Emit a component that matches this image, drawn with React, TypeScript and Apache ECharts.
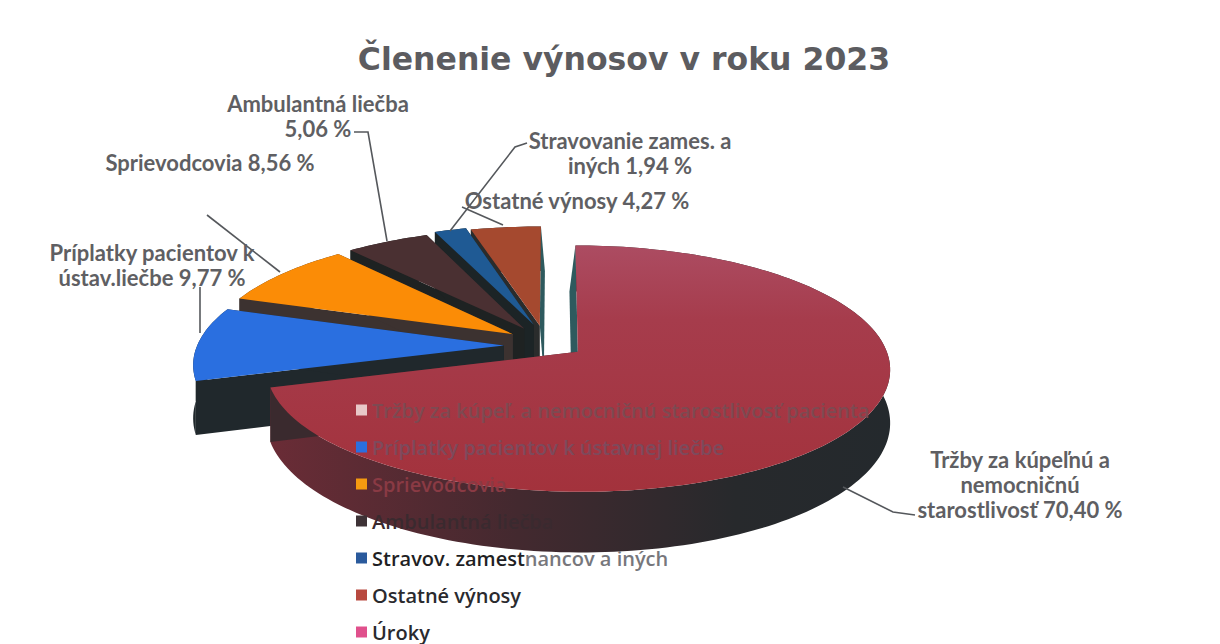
import React, { useEffect, useRef } from "react";
import * as echarts from "echarts";

const titleText = "Členenie výnosov v roku 2023";
const legendNames = [
  "Tržby za kúpeľ. a nemocničnú starostlivosť pacienta",
  "Príplatky pacientov k ústavnej liečbe",
  "Sprievodcovia",
  "Ambulantná liečba",
  "Stravov. zamestnancov a iných",
  "Ostatné výnosy",
  "Úroky",
];
const shares = [70.4, 9.77, 8.56, 5.06, 1.94, 4.27, 0];
const explode = [0.08, 0.176, 0.18, 0.215, 0.22, 0.23, 0];
const nudgeX = [0, 0, 0, 0, -3, -9, 0];
const nudgeY = [0, 0, 0, 4, 3, 6, 0];
const topColors = ["#a63a48", "#2a6fe0", "#fb8c06", "#4a3032", "#1f5a94", "#a5492f", "#d84a80"];
const wallColors = ["#3a2a2e", "#20282c", "#3c3230", "#1e2222", "#1c2426", "#2a2c2c", "#000"];
const legendIcons = ["#e8c8c8", "#2a6fe0", "#f59a10", "#3e3236", "#2a5a9c", "#b8493f", "#e0508c"];
const legendTextColors = ["#7d4a52", "#7d4a5c", "#8a3a44", "#3a2a2f", "#1f1f24", "#2a2a2e", "#2a2a2e"];

const FONT = "'Open Sans', sans-serif";
const LABEL_FONT = "Lato, sans-serif";
const CX = 558, CY = 346, R = 307, RY = 119.3, P = 0.136, DEPTH = 52;
const LEGEND_SIZE = 20;

function project(u: number, v: number, d: number): number[] {
  const k = 1 - P * v;
  return [CX + (R * u) / k, CY + (RY * v + d) / k];
}

function makeRender(index: number) {
  return (_p: any, api: any) => {
    const value = api.value(0) as number;
    if (!value) return { type: "group", children: [] };
    const total = shares.reduce((a, b) => a + b, 0);
    const before = shares.slice(0, index).reduce((a, b) => a + b, 0);
    const a0 = (before / total) * Math.PI * 2;
    const a1 = ((before + value) / total) * Math.PI * 2;
    const mid = (a0 + a1) / 2;
    const eu = explode[index] * Math.sin(mid);
    const ev = -explode[index] * Math.cos(mid);
    const steps = Math.max(6, Math.ceil((a1 - a0) * 40));
    const topRim: number[][] = [];
    const botRim: number[][] = [];
    for (let i = 0; i <= steps; i++) {
      const t = a0 + ((a1 - a0) * i) / steps;
      topRim.push(project(Math.sin(t) + eu, -Math.cos(t) + ev, 0));
      botRim.push(project(Math.sin(t) + eu, -Math.cos(t) + ev, DEPTH));
    }
    const apexT = project(eu, ev, 0);
    const apexB = project(eu, ev, DEPTH);
    const startSkew = index === 0 ? -6 : 0;
    const endSkew = index === 5 ? 4 : 0;
    const shift = (p: number[], s: number) => [p[0] + s, p[1]];
    const rimFill: any =
      index === 0
        ? new echarts.graphic.LinearGradient(0, 0, 1, 0, [
            { offset: 0, color: "#6a2c36" },
            { offset: 0.4, color: "#43292f" },
            { offset: 0.75, color: "#27292c" },
            { offset: 1, color: "#24292d" },
          ])
        : wallColors[index];
    const poly = (points: number[][], fill: any) => ({
      type: "polygon",
      shape: { points },
      style: { fill, stroke: null },
      silent: true,
    });
    const topFill: any =
      index === 0
        ? new echarts.graphic.LinearGradient(0, 0, 0, 1, [
            { offset: 0, color: "#ac4c62" },
            { offset: 0.3, color: "#a63c4c" },
            { offset: 1, color: "#a3323c" },
          ])
        : topColors[index];
    return {
      type: "group",
      x: nudgeX[index],
      y: nudgeY[index],
      children: [
        poly(topRim.concat(botRim.slice().reverse()), rimFill),
        poly(
          [apexT, topRim[0], shift(botRim[0], startSkew), shift(apexB, startSkew)],
          index === 0 ? "#2e5a5e" : wallColors[index]
        ),
        poly(
          [apexT, topRim[steps], shift(botRim[steps], endSkew), shift(apexB, endSkew)],
          index === 5 ? "#2e5a5e" : wallColors[index]
        ),
        poly([apexT].concat(topRim), topFill),
      ],
    };
  };
}

const labelBlocks = [
  { text: "Ambulantná liečba\n5,06 %", x: 318, y: 116 },
  { text: "Sprievodcovia 8,56 %", x: 210, y: 162 },
  { text: "Stravovanie zames. a\niných 1,94 %", x: 630, y: 153 },
  { text: "Ostatné výnosy 4,27 %", x: 577, y: 200 },
  { text: "Príplatky pacientov k\nústav.liečbe 9,77 %", x: 152, y: 265 },
  { text: "Tržby za kúpeľnú a\nnemocničnú\nstarostlivosť 70,40 %", x: 1020, y: 484 },
];
const leaders = [
  [[354, 132], [368, 132], [387, 241]],
  [[207, 215], [280, 272]],
  [[527, 143], [515, 147], [450, 231]],
  [[462, 207], [503, 225]],
  [[200, 287], [200, 333]],
  [[843, 487], [893, 512], [915, 515]],
];

export default function App() {
  const ref = useRef<HTMLDivElement>(null);
  useEffect(() => {
    const chart = echarts.init(ref.current!, null, { renderer: "svg" });
    const order = legendNames.map((_, i) => i);
    chart.setOption({
      animation: false,
      backgroundColor: "#ffffff",
      title: {
        text: titleText,
        left: 619,
        top: 38,
        textAlign: "center",
        textStyle: { fontFamily: "'DejaVu Sans', sans-serif", fontSize: 31.5, fontWeight: 700, color: "#5c5c60" },
      },
      legend: {
        orient: "vertical",
        left: 351,
        top: 395,
        height: 300,
        itemWidth: 11,
        itemHeight: 11,
        itemGap: 17,
        selectedMode: false,
        icon: "rect",
        formatter: (n: string) =>
          n.startsWith("Stravov") ? "{a|Stravov. zamest}{b|nancov a iných}" : n,
        textStyle: {
          fontFamily: FONT,
          fontSize: LEGEND_SIZE,
          fontWeight: 600,
          lineHeight: 20,
          rich: {
            a: { fontFamily: FONT, fontSize: LEGEND_SIZE, fontWeight: 600, color: "#1f1f24", lineHeight: 20 },
            b: { fontFamily: FONT, fontSize: LEGEND_SIZE, fontWeight: 600, color: "#77777c", lineHeight: 20 },
          },
        },
        data: legendNames.map((name, i) => ({
          name,
          itemStyle: { color: legendIcons[i] },
          textStyle: { color: legendTextColors[i] },
        })),
      },
      graphic: [
        ...leaders.map((points) => ({
          type: "polyline",
          z: 5,
          shape: { points },
          style: { fill: null, stroke: "#55585c", lineWidth: 1.6 },
        })),
        ...labelBlocks.map((b) => ({
          type: "text",
          z: 6,
          x: b.x,
          y: b.y,
          style: {
            text: b.text,
            fontFamily: LABEL_FONT,
            fontSize: 22,
            fontWeight: 700,
            fill: "#5f5f63",
            align: "center",
            verticalAlign: "middle",
            lineHeight: 25,
          },
        })),
      ],
      // back-to-front drawing: later slices overlap earlier ones
      series: order
        .slice()
        .reverse()
        .map((i) => ({
          type: "custom",
          name: legendNames[i],
          coordinateSystem: "none",
          renderItem: makeRender(i),
          itemStyle: { color: topColors[i] },
          silent: true,
          data: [[shares[i]]],
        })),
    });
    return () => chart.dispose();
  }, []);
  return (
    <div
      ref={ref}
      style={{ position: "fixed", left: 0, top: 0, width: 1220, height: 644 }}
    />
  );
}
